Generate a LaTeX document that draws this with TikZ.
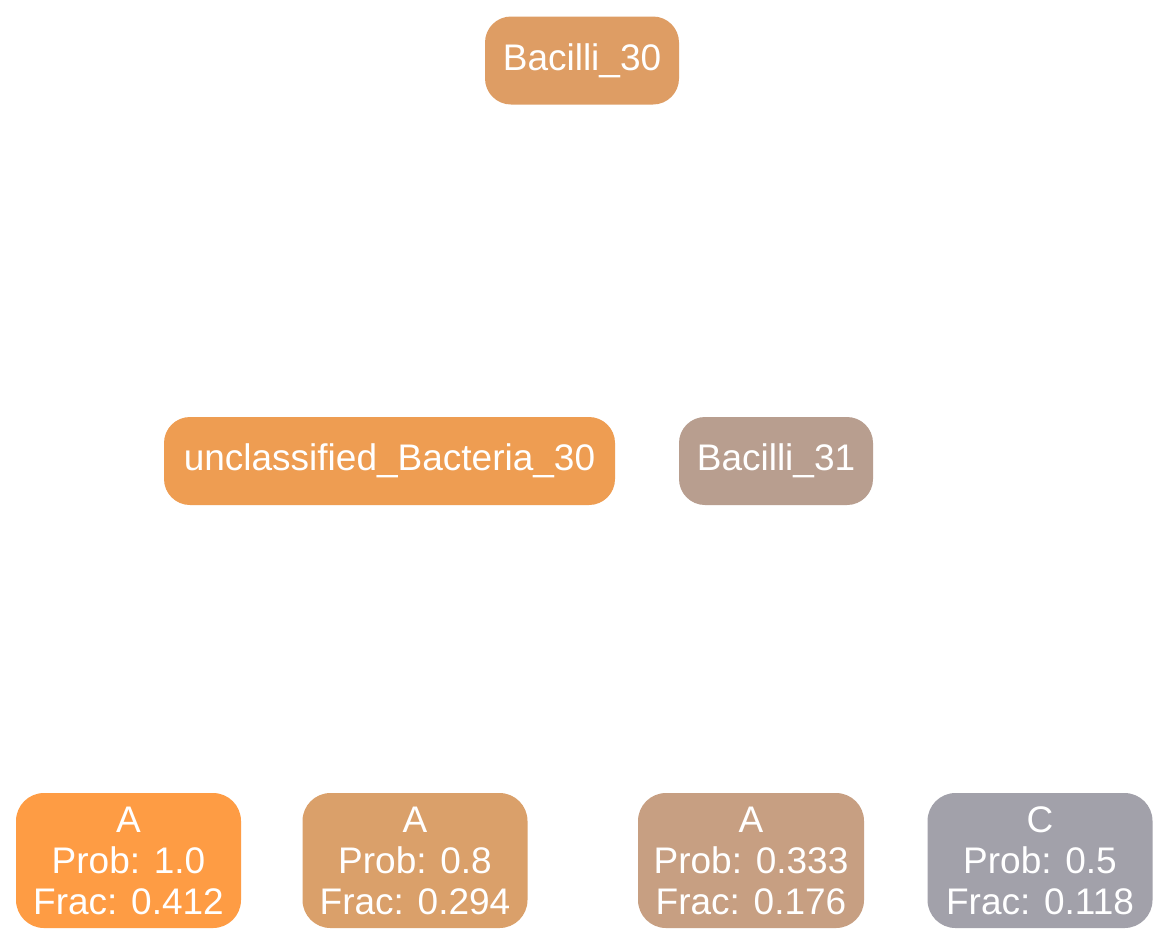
\documentclass[tikz,border=0pt]{standalone}
\usepackage{fontspec}
\setmainfont{Liberation Sans}
\definecolor{cB30}{HTML}{DE9D64}
\definecolor{cUB}{HTML}{EE9D52}
\definecolor{cB31}{HTML}{B89E8F}
\definecolor{cL1}{HTML}{FE9C44}
\definecolor{cL2}{HTML}{DAA06A}
\definecolor{cL3}{HTML}{C79F82}
\definecolor{cL4}{HTML}{A2A1AA}
\tikzset{
  box/.style={rectangle, rounded corners=26pt, text=white, inner sep=0pt,
    font=\fontsize{37}{41}\selectfont, align=center},
  inner/.style={box, minimum height=88pt},
  leaf/.style={box, minimum height=135pt, minimum width=225pt, rounded corners=28pt},
}
\begin{document}
\begin{tikzpicture}[x=1pt,y=-1pt]
\useasboundingbox[fill=white] (0,0) rectangle (1169,946);
\node[inner, fill=cB30, minimum width=194pt] (b30) at (582,60.5) {Bacilli\_30};
\node[inner, fill=cUB, minimum width=451pt] (ub30) at (389.5,461) {unclassified\_Bacteria\_30};
\node[inner, fill=cB31, minimum width=194pt] (b31) at (776,461) {Bacilli\_31};
\node[leaf, fill=cL1] (l1) at (128.5,860.5) {A\\Prob: 1.0\\Frac: 0.412};
\node[leaf, fill=cL2] (l2) at (415,860.5) {A\\Prob: 0.8\\Frac: 0.294};
\node[leaf, fill=cL3, minimum width=226pt] (l3) at (751,860.5) {A\\Prob: 0.333\\Frac: 0.176};
\node[leaf, fill=cL4] (l4) at (1040,860.5) {C\\Prob: 0.5\\Frac: 0.118};
\end{tikzpicture}
\end{document}
